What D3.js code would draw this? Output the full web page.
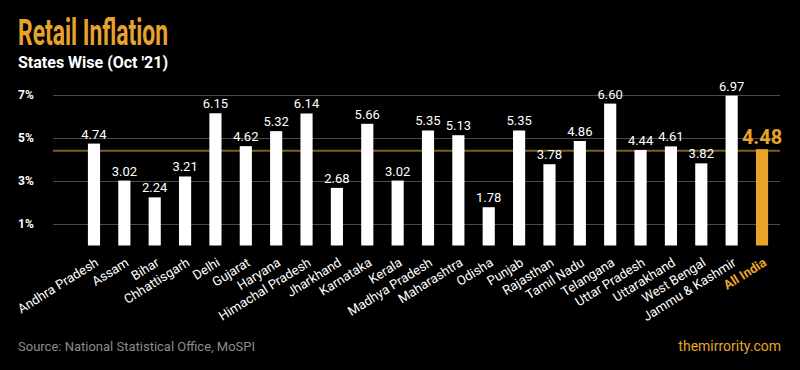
<!DOCTYPE html>
<html>
<head>
<meta charset="utf-8">
<script src="https://cdn.jsdelivr.net/npm/d3@7"></script>
<style>
  html, body { margin: 0; padding: 0; background: #000; }
  svg { display: block; font-family: Roboto, "Noto Sans", sans-serif; }
</style>
</head>
<body>
<svg id="chart" width="800" height="370"></svg>
<script>
const states = ["Andhra Pradesh","Assam","Bihar","Chhattisgarh","Delhi","Gujarat","Haryana","Himachal Pradesh","Jharkhand","Karnataka","Kerala","Madhya Pradesh","Maharashtra","Odisha","Punjab","Rajasthan","Tamil Nadu","Telangana","Uttar Pradesh","Uttarakhand","West Bengal","Jammu & Kashmir","All India"];
const inflation = [4.74,3.02,2.24,3.21,6.15,4.62,5.32,6.14,2.68,5.66,3.02,5.35,5.13,1.78,5.35,3.78,4.86,6.60,4.44,4.61,3.82,6.97,4.48];
const valueLabels = ["4.74","3.02","2.24","3.21","6.15","4.62","5.32","6.14","2.68","5.66","3.02","5.35","5.13","1.78","5.35","3.78","4.86","6.60","4.44","4.61","3.82","6.97","4.48"];
const yTicks = [1,3,5,7];
const yTickLabels = ["1%","3%","5%","7%"];
const allIndiaAvg = 4.48;
const highlight = "All India";

const ORANGE = "#e8a42a";
const svg = d3.select("#chart");
const data = states.map((s,i)=>({state:s, value:inflation[i], label:valueLabels[i]}));

const x = d3.scaleBand().domain(states).range([78.8, 777.2]).paddingInner(0.6).paddingOuter(0.3);
const y = d3.scaleLinear().domain([0,7]).range([245.5, 95]);

// title
svg.append("text").attr("x",18).attr("y",45)
  .attr("font-size",36).attr("font-weight",700).attr("fill",ORANGE)
  .attr("textLength",150).attr("lengthAdjust","spacingAndGlyphs")
  .text("Retail Inflation");
svg.append("text").attr("x",18).attr("y",68)
  .attr("font-size",16).attr("font-weight",700).attr("fill","#fff")
  .text("States Wise (Oct '21)");

// gridlines
const grid = svg.append("g");
grid.selectAll("line").data(yTicks).join("line")
  .attr("x1",53).attr("x2",780)
  .attr("y1",d=>y(d)+0.5).attr("y2",d=>y(d)+0.5)
  .attr("stroke","#4a4a4a").attr("stroke-width",1);
grid.selectAll("text").data(yTicks).join("text")
  .attr("x",18).attr("y",d=>y(d)).attr("dy","0.35em")
  .attr("font-size",12).attr("font-weight",700).attr("fill","#fff")
  .text((d,i)=>yTickLabels[i]);

// average line
svg.append("line").attr("x1",53).attr("x2",780)
  .attr("y1",y(allIndiaAvg)+1.5).attr("y2",y(allIndiaAvg)+1.5)
  .attr("stroke","#7d5e1c").attr("stroke-width",2);

// bars
svg.append("g").selectAll("rect").data(data).join("rect")
  .attr("x",d=>x(d.state)).attr("width",x.bandwidth())
  .attr("y",d=>y(d.value)).attr("height",d=>y(0)-y(d.value))
  .attr("fill",d=>d.state===highlight?ORANGE:"#fff");

// value labels
svg.append("g").selectAll("text").data(data).join("text")
  .attr("x",d=>x(d.state)+x.bandwidth()/2)
  .attr("y",d=>y(d.value)-5)
  .attr("text-anchor","middle")
  .attr("font-size",d=>d.state===highlight?20:13)
  .attr("font-weight",d=>d.state===highlight?700:400)
  .attr("fill",d=>d.state===highlight?ORANGE:"#fff")
  .text(d=>d.label);

// x labels
svg.append("g").selectAll("text").data(data).join("text")
  .attr("transform",d=>`translate(${x(d.state)+x.bandwidth()/2+3},261) rotate(-32)`)
  .attr("text-anchor","end").attr("dy","0.35em")
  .attr("font-size",13)
  .attr("font-weight",d=>d.state===highlight?700:400)
  .attr("fill",d=>d.state===highlight?ORANGE:"#fff")
  .text(d=>d.state);

// footer
svg.append("text").attr("x",18).attr("y",351)
  .attr("font-size",13).attr("fill","#8c8c8c")
  .text("Source: National Statistical Office, MoSPI");
svg.append("text").attr("x",781).attr("y",351).attr("text-anchor","end")
  .attr("font-size",14).attr("fill",ORANGE)
  .text("themirrority.com");
</script>
</body>
</html>
